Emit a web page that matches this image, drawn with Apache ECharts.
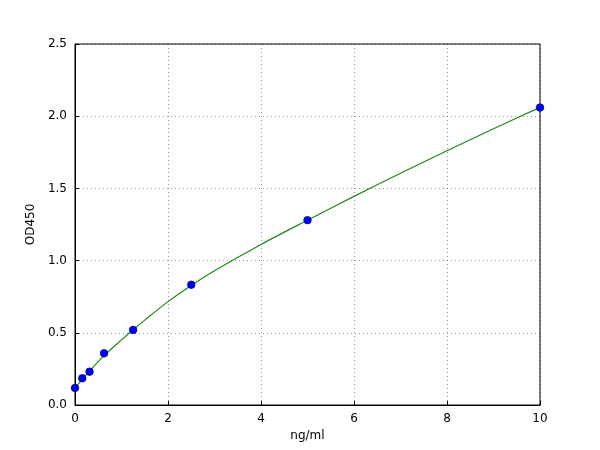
<!DOCTYPE html>
<html><head><meta charset="utf-8">
<script src="https://cdn.jsdelivr.net/npm/echarts@6/dist/echarts.min.js"></script>
<style>html,body{margin:0;padding:0;background:#fff}#c{width:600px;height:450px}</style>
</head><body><div id="c"></div>
<script>
var conc = [0, 0.156, 0.3125, 0.625, 1.25, 2.5, 5, 10];
var od = [0.118, 0.185, 0.231, 0.358, 0.52, 0.833, 1.28, 2.06];
var curveX = [0, 0.156, 0.3125, 0.625, 1, 1.25, 1.5, 2, 2.5, 3, 4, 5, 6, 7, 8, 9, 10];
var curveY = [0.118, 0.178, 0.236, 0.342, 0.451, 0.521, 0.588, 0.716, 0.828, 0.93, 1.112, 1.28, 1.445, 1.605, 1.761, 1.913, 2.061];

var font = 'DejaVu Sans';
var chart = echarts.init(document.getElementById('c'));
function axisCommon() {
  return {
    axisLine: {show: true, onZero: false, lineStyle: {color: '#000', width: 1}},
    axisTick: {show: true, inside: true, length: 4, lineStyle: {color: '#000'}},
    axisLabel: {color: '#000', fontFamily: font, fontSize: 12, margin: 8},
    splitLine: {show: true, lineStyle: {color: '#000', type: [1, 3], width: 0.6, opacity: 0.7}}
  };
}
var xa = Object.assign(axisCommon(), {
  type: 'value', min: 0, max: 10, interval: 2,
  name: 'ng/ml', nameLocation: 'middle', nameGap: 24,
  nameTextStyle: {color: '#000', fontFamily: font, fontSize: 12}
});
var ya = Object.assign(axisCommon(), {
  type: 'value', min: 0, max: 2.5, interval: 0.5,
  name: 'OD450', nameLocation: 'middle', nameGap: 27,
  nameTextStyle: {color: '#000', fontFamily: font, fontSize: 12},
  axisLabel: {color: '#000', fontFamily: font, fontSize: 12, margin: 8,
    formatter: function (v) { return v.toFixed(1); }}
});
chart.setOption({
  animation: false,
  backgroundColor: '#fff',
  grid: {left: 75, right: 60, top: 44, bottom: 45, show: true, borderColor: '#000', borderWidth: 1, backgroundColor: 'transparent'},
  xAxis: xa,
  yAxis: ya,
  series: [
    {
      type: 'line', smooth: 0.3, symbol: 'none',
      data: curveX.map(function (x, i) { return [x, curveY[i]]; }),
      lineStyle: {color: '#1a8a1a', width: 1.2}, z: 2
    },
    {
      type: 'scatter', symbolSize: 7.5,
      data: conc.map(function (x, i) { return [x, od[i]]; }),
      itemStyle: {color: '#0000ff', borderColor: '#000080', borderWidth: 0.8, opacity: 1}, z: 3
    }
  ]
});
</script></body></html>
